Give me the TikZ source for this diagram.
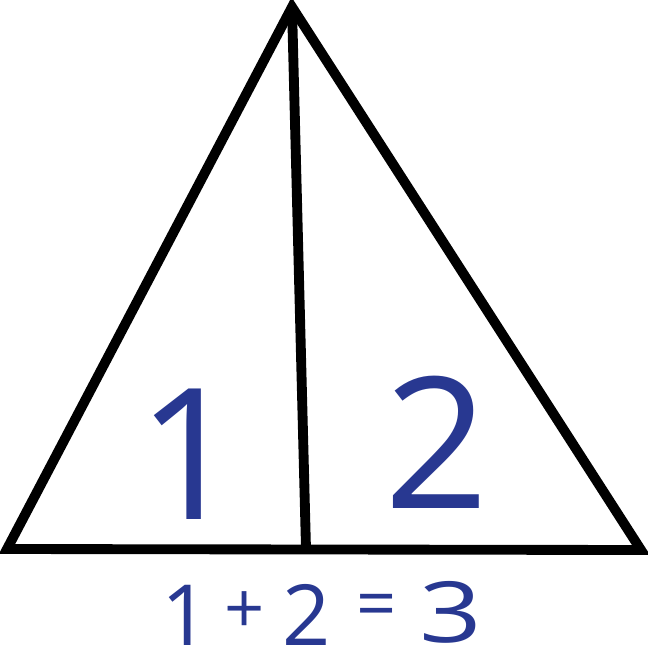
\documentclass[tikz,border=0pt]{standalone}
\usepackage{fontspec}
\setmainfont{Open Sans}
\usepackage{tikz}
\definecolor{digitblue}{HTML}{283891}

\begin{document}
\begin{tikzpicture}[x=0.01cm,y=-0.01cm,
  edge/.style={line width=2.8pt,line join=miter},
  big/.style={text=digitblue,font=\fontsize{52}{52}\selectfont,inner sep=0pt},
  sum/.style={text=digitblue,font=\fontsize{24}{24}\selectfont,inner sep=0pt},
  op/.style={text=digitblue,font=\fontsize{20}{20}\selectfont,inner sep=0pt}]
  \useasboundingbox (0,0) rectangle (647,670);
  \coordinate (top) at (292,7);
  \coordinate (left) at (7,549);
  \coordinate (right) at (641,550);
  \coordinate (foot) at (306,549);
  \draw[edge] (top) -- (left) -- (right) -- cycle;
  \draw[edge] (top) -- (foot);
  \node[big] (one) at (190,454) {1};
  \node[big] (two) at (437,442) {2};
  \node[sum] (a) at (186,615) {1};
  \node[op] (plus) at (245,613) {+};
  \node[sum] (b) at (307,615) {2};
  \node[op] (eq) at (377,611) {=};
  \node[sum,xscale=1.3] (c) at (451,612) {3};
\end{tikzpicture}
\end{document}
